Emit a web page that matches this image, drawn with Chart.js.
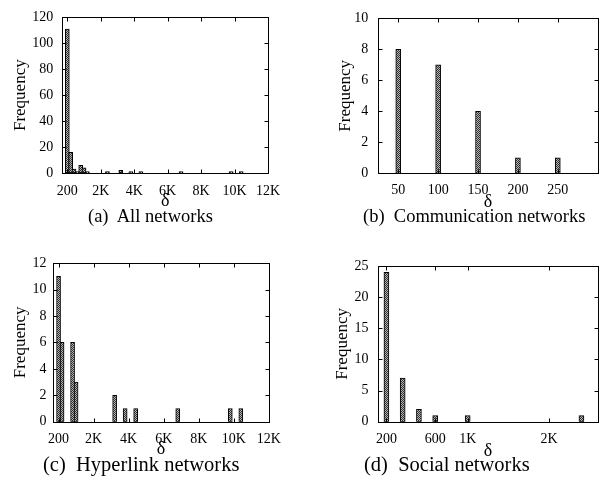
<!DOCTYPE html>
<html><head><meta charset="utf-8">
<script src="https://cdn.jsdelivr.net/npm/chart.js@4"></script>
<style>
html,body{margin:0;padding:0;background:#fff;}
body{width:607px;height:487px;position:relative;overflow:hidden;font-family:"Liberation Serif","Times New Roman",serif;color:#000;}
canvas{position:absolute;}
.cap{position:absolute;font-size:18.5px;line-height:1;white-space:pre;}
.cap2{font-size:20.5px;}
</style></head><body>
<canvas id="ca" width="290" height="212" style="left:0;top:0"></canvas>
<canvas id="cb" width="307" height="212" style="left:300px;top:0"></canvas>
<canvas id="cc" width="290" height="213" style="left:0;top:248px"></canvas>
<canvas id="cd" width="307" height="213" style="left:300px;top:248px"></canvas>
<div class="cap" style="left:88px;top:207px">(a)  All networks</div>
<div class="cap" style="left:363px;top:207px">(b)  Communication networks</div>
<div class="cap cap2" style="left:43px;top:454px">(c)  Hyperlink networks</div>
<div class="cap cap2" style="left:364px;top:454px">(d)  Social networks</div>
<script>
// ---- data ----
const allDelta = [0, 200, 400, 600, 800, 1000, 1200, 2400, 3200, 3800, 4400, 6800, 9800, 10400];
const allFreq  = [111, 16, 3, 1, 6, 4, 1, 1, 2, 1, 1, 1, 1, 1];

const commDelta = [50, 100, 150, 200, 250];
const commFreq  = [8, 7, 4, 1, 1];

const hyperDelta = [0, 200, 800, 1000, 3200, 3800, 4400, 6800, 9800, 10400];
const hyperFreq  = [11, 6, 6, 3, 2, 1, 1, 1, 1, 1];

const socialDelta = [0, 200, 400, 600, 1000, 2400];
const socialFreq  = [24, 7, 2, 1, 1, 1];

const bigTickVals   = [0, 2000, 4000, 6000, 8000, 10000, 12000];
const bigTickLabels = ["200", "2K", "4K", "6K", "8K", "10K", "12K"];
const commTickVals   = [50, 100, 150, 200, 250];
const commTickLabels = ["50", "100", "150", "200", "250"];
const socialTickVals   = [0, 600, 1000, 2000];
const socialTickLabels = ["200", "600", "1K", "2K"];

// ---- styling ----
Chart.defaults.font.family = "'Liberation Serif', 'Times New Roman', serif";
Chart.defaults.color = '#000';

function makePattern(){
  const c = document.createElement('canvas');
  c.width = 2; c.height = 2;
  const g = c.getContext('2d');
  g.fillStyle = '#b8b8b8'; g.fillRect(0,0,2,2);
  g.fillStyle = '#303030'; g.fillRect(0,0,1,1); g.fillRect(1,1,1,1);
  return g.createPattern(c, 'repeat');
}

const framePlugin = {
  id: 'frame',
  afterDatasetsDraw(chart){
    const {ctx, chartArea:a, scales:{x, y}} = chart;
    const l = Math.round(a.left)+0.5, r = Math.round(a.right)+0.5, t = Math.round(a.top)+0.5, b = Math.round(a.bottom)+0.5;
    ctx.save();
    ctx.strokeStyle = '#000'; ctx.lineWidth = 1;
    ctx.strokeRect(l, t, r-l, b-t);
    const L = 4;
    ctx.beginPath();
    x.ticks.forEach(tk => {
      const px = Math.round(x.getPixelForValue(tk.value)) + 0.5;
      ctx.moveTo(px, b); ctx.lineTo(px, b - L);
      ctx.moveTo(px, t); ctx.lineTo(px, t + L);
    });
    y.ticks.forEach(tk => {
      const py = Math.round(y.getPixelForValue(tk.value)) + 0.5;
      ctx.moveTo(l, py); ctx.lineTo(l + L, py);
      ctx.moveTo(r, py); ctx.lineTo(r - L, py);
    });
    ctx.stroke();
    ctx.restore();
  }
};

function makeChart(id, o){
  const data = o.xs.map((v, i) => ({x: v, y: o.ys[i]}));
  new Chart(document.getElementById(id), {
    type: 'bar',
    data: { datasets: [{ data, backgroundColor: makePattern(), borderColor: '#000', borderWidth: 1, barThickness: o.bar, borderSkipped: false }] },
    options: {
      responsive: false, animation: false, devicePixelRatio: 1,
      layout: { padding: o.pad },
      plugins: { legend: {display: false}, tooltip: {enabled: false} },
      scales: {
        x: {
          type: 'linear', min: o.xMin, max: o.xMax, offset: false,
          grid: {display: false, drawTicks: false}, border: {display: false},
          afterBuildTicks: s => { s.ticks = o.tv.map(v => ({value: v})); },
          afterFit: s => { s.height = o.xH; },
          ticks: { autoSkip: false, maxRotation: 0, padding: o.xPad, font: {size: 14},
                   callback: v => { const k = o.tv.indexOf(v); return k >= 0 ? o.tl[k] : ''; } },
          title: { display: true, text: 'δ', font: {size: 18, lineHeight: 1}, padding: {top: 0, bottom: o.dPad} }
        },
        y: {
          min: 0, max: o.yMax,
          grid: {display: false, drawTicks: false}, border: {display: false},
          afterFit: s => { s.width = o.yW; },
          ticks: { stepSize: o.yStep, padding: o.yPad, font: {size: 14} },
          title: { display: true, text: 'Frequency', font: {size: 17, lineHeight: 1}, padding: {top: o.fPad, bottom: 0} }
        }
      }
    },
    plugins: [framePlugin]
  });
}

makeChart('ca', { xs: allDelta, ys: allFreq, xMin: -300, xMax: 12000, tv: bigTickVals, tl: bigTickLabels,
  yMax: 120, yStep: 20, bar: 4, pad: {left: 0, top: 11, right: 17, bottom: 0}, yW: 62.3, xH: 39,
  xPad: 10, yPad: 9, dPad: 1.5, fPad: 12.3 });
makeChart('cb', { xs: commDelta, ys: commFreq, xMin: 25, xMax: 300, tv: commTickVals, tl: commTickLabels,
  yMax: 10, yStep: 2, bar: 5, pad: {left: 0, top: 11, right: 9.3, bottom: 0}, yW: 78.3, xH: 38.7,
  xPad: 8.3, yPad: 10, dPad: 0.7, fPad: 37.5 });
makeChart('cc', { xs: hyperDelta, ys: hyperFreq, xMin: -300, xMax: 12000, tv: bigTickVals, tl: bigTickLabels,
  yMax: 12, yStep: 2, bar: 4, pad: {left: 0, top: 12, right: 17, bottom: 0}, yW: 53.3, xH: 39.3,
  xPad: 9.1, yPad: 6.7, dPad: 3, fPad: 12.5 });
makeChart('cd', { xs: socialDelta, ys: socialFreq, xMin: -100, xMax: 2600, tv: socialTickVals, tl: socialTickLabels,
  yMax: 25, yStep: 5, bar: 5, pad: {left: 0, top: 12, right: 9.3, bottom: 0}, yW: 78.3, xH: 39.3,
  xPad: 8.9, yPad: 9.7, dPad: 0.5, fPad: 34.5 });
</script>
</body></html>
